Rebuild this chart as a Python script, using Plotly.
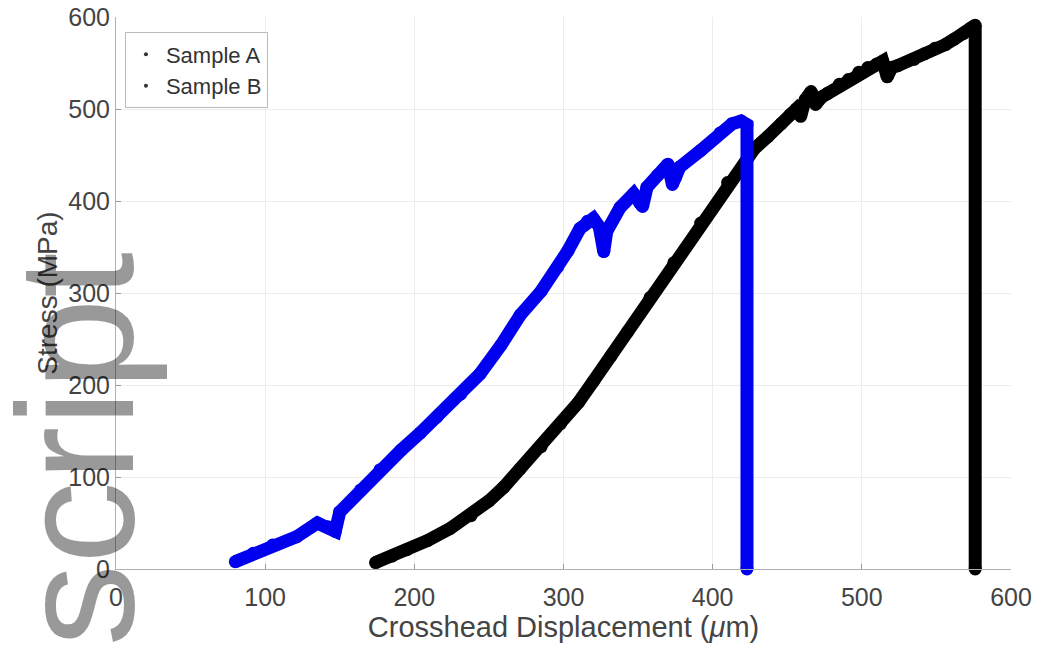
import plotly.graph_objects as go

# Sample A (black) - crosshead displacement (um) and stress (MPa)
a_x = [174, 185, 195, 209, 224, 238, 250, 260, 271, 285, 298, 310, 320, 332, 343, 358,
       374, 392, 410, 428, 437, 446, 452, 456, 459, 462, 466, 469, 473, 477, 485, 491,
       498, 504, 510, 514, 517, 520, 524, 535, 542, 549, 556, 562, 568, 573, 576, 576]
a_y = [7, 14, 21, 31, 44, 58, 74, 89, 109, 133, 158, 181, 204, 232, 258, 295,
       333, 376, 420, 457, 470, 484, 494, 500, 492, 510, 519, 505, 513, 517, 527, 532,
       540, 545, 549, 552, 535, 545, 547, 554, 560, 566, 570, 576, 582, 588, 591, 0]

# Sample B (blue)
b_x = [80, 92, 105, 121, 135, 142, 147, 150, 164, 177, 191, 204, 215, 231, 244, 258,
       271, 285, 296, 303, 311, 316, 320, 324, 327, 329, 338, 347, 351, 353, 356, 363,
       370, 373, 375, 378, 392, 405, 413, 419, 423, 423]
b_y = [8, 17, 26, 35, 50, 46, 41, 62, 86, 108, 129, 148, 165, 190, 212, 243,
       276, 302, 328, 346, 370, 378, 381, 372, 345, 367, 393, 408, 398, 394, 415, 428,
       440, 418, 425, 437, 455, 474, 484, 487, 483, 0]

names = ["Sample A", "Sample B"]
colors = ["black", "#0000ee"]
ticks = [0, 100, 200, 300, 400, 500, 600]

FONT = "Liberation Sans, Arial, sans-serif"

fig = go.Figure()
for xs, ys, c in [(a_x, a_y, colors[0]), (b_x, b_y, colors[1])]:
    fig.add_trace(go.Scatter(x=xs, y=ys, mode="lines+markers", showlegend=False,
                             line=dict(color=c, width=13),
                             marker=dict(color=c, size=13), cliponaxis=False))
for nm in names:
    fig.add_trace(go.Scatter(x=[None], y=[None], mode="markers", name=nm,
                             marker=dict(color="#333333", size=4)))

axis_common = dict(range=[0, 600], tickvals=ticks, ticks="inside", ticklen=5,
                   tickcolor="#999999", showgrid=True, gridcolor="#ececec", gridwidth=1,
                   showline=True, linecolor="#b0b0b0", linewidth=1, zeroline=False,
                   automargin=False,
                   tickfont=dict(family=FONT, size=25, color="#444444"))

fig.update_layout(
    width=1039, height=656,
    margin=dict(l=116, r=28, t=17, b=87),
    paper_bgcolor="white", plot_bgcolor="white",
    xaxis=dict(**axis_common, ticklabelstandoff=6,
               title=dict(text="Crosshead Displacement (<i>μ</i>m)",
                          font=dict(family=FONT, size=29, color="#444444"), standoff=6)),
    yaxis=dict(**axis_common,
               title=dict(text="Stress (MPa)",
                          font=dict(family=FONT, size=28, color="#444444"), standoff=2)),
    legend=dict(x=0.01, y=0.972, xanchor="left", yanchor="top",
                bordercolor="#bbbbbb", borderwidth=1, bgcolor="white",
                font=dict(family=FONT, size=22, color="#333333"),
                itemwidth=30, tracegroupgap=0),
    showlegend=True,
)

fig.add_annotation(text="script", xref="paper", yref="paper",
                   x=-0.045, y=0.216, xanchor="center", yanchor="middle",
                   textangle=-90, showarrow=False, borderpad=0,
                   font=dict(family=FONT, size=165, color="rgba(0,0,0,0.4)"))

fig.write_html("out.html")
